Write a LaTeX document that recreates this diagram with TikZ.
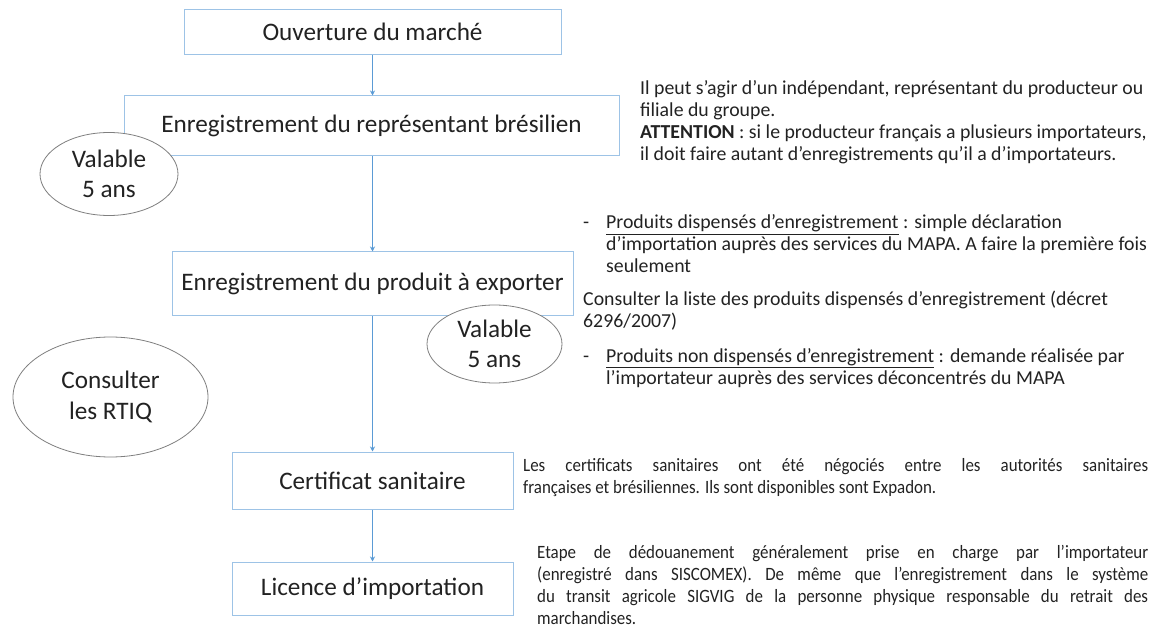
\documentclass[tikz,border=0pt]{standalone}
\usepackage{fontspec}
\setmainfont{Carlito}
\newfontfamily\condfamily[FakeStretch=0.9]{Carlito}
\usetikzlibrary{arrows.meta,shapes.geometric}
\definecolor{boxblue}{HTML}{9DC3E6}
\definecolor{arrblue}{HTML}{5B9BD5}
\definecolor{ellgray}{HTML}{7F7F7F}
\definecolor{txt}{HTML}{222222}
\newcommand{\boxfont}{\fontsize{25.2}{30.5}\selectfont}
\newcommand{\sidefont}{\fontsize{19.8}{22}\selectfont}
\newcommand{\condfont}{\condfamily\fontsize{18.8}{22}\selectfont}
\newcommand{\dashitem}{\makebox[23pt][l]{-}}
\newcommand{\indentitem}{\hspace*{23pt}}
\begin{document}
\begin{tikzpicture}[x=1pt,y=-1pt,
  stepbox/.style={draw=boxblue, line width=1pt, fill=white, inner sep=0pt, font=\boxfont, text=txt},
  oval/.style={ellipse, draw=ellgray, line width=0.8pt, fill=white, inner sep=0pt, align=center, font=\boxfont, text=txt},
  flow/.style={draw=arrblue, line width=1pt, -{Stealth[length=5pt,width=5pt]}},
  side/.style={anchor=west, inner sep=0pt, align=left, font=\sidefont, text=txt}]
\useasboundingbox (0,0) rectangle (1168,628);
% boxes
\node[stepbox, minimum width=377pt, minimum height=45pt] (b1) at (372.5,32) {Ouverture du marché};
\node[stepbox, minimum width=495pt, minimum height=60pt] (b2) at (371.5,126) {Enregistrement du représentant brésilien};
\node[stepbox, minimum width=401pt, minimum height=64pt] (b3) at (372.5,284) {Enregistrement du produit à exporter};
\node[stepbox, minimum width=281pt, minimum height=57pt] (b4) at (372.5,480.5) {Certificat sanitaire};
\node[stepbox, minimum width=281pt, minimum height=53pt] (b5) at (372.5,588.5) {Licence d’importation};
% connectors
\draw[flow] (b1.south) -- (b1.south |- b2.north);
\draw[flow] (b1.south |- b2.south) -- (b1.south |- b3.north);
\draw[flow] (b1.south |- b3.south) -- (b1.south |- b4.north);
\draw[flow] (b1.south |- b4.south) -- (b1.south |- b5.north);
% ovals
\node[oval, minimum width=138pt, minimum height=83pt] (e1) at (109,174) {Valable\\5 ans};
\node[oval, minimum width=135pt, minimum height=78pt] (e2) at (494.5,344) {Valable\\5 ans};
\node[oval, minimum width=195pt, minimum height=120pt] (e3) at (110.5,397) {Consulter\\les RTIQ};
% side texts
\node[side] (t1) at (640,122) {Il peut s’agir d’un indépendant, représentant du producteur ou\\
filiale du groupe.\\
\textbf{ATTENTION} : si le producteur français a plusieurs importateurs,\\
il doit faire autant d’enregistrements qu’il a d’importateurs.};
\node[side] (t2a) at (583,244) {\dashitem\underline{Produits dispensés d’enregistrement}~: simple déclaration\\
\indentitem d’importation auprès des services du MAPA. A faire la première fois\\
\indentitem seulement};
\node[side] (t2b) at (583,311) {Consulter la liste des produits dispensés d’enregistrement (décret\\
6296/2007)};
\node[side] (t2c) at (583,368) {\dashitem\underline{Produits non dispensés d’enregistrement}~: demande réalisée par\\
\indentitem l’importateur auprès des services déconcentrés du MAPA};
\node[side] (t3) at (523,478) {\parbox{625pt}{\condfont Les certificats sanitaires ont été négociés entre les autorités sanitaires\linebreak
françaises et brésiliennes. Ils sont disponibles sont Expadon.}};
\node[side] (t4) at (537,585) {\parbox{611pt}{\condfont Etape de dédouanement généralement prise en charge par l’importateur\linebreak
(enregistré dans SISCOMEX). De même que l’enregistrement dans le système\linebreak
du transit agricole SIGVIG de la personne physique responsable du retrait des\linebreak
marchandises.}};
\end{tikzpicture}
\end{document}
